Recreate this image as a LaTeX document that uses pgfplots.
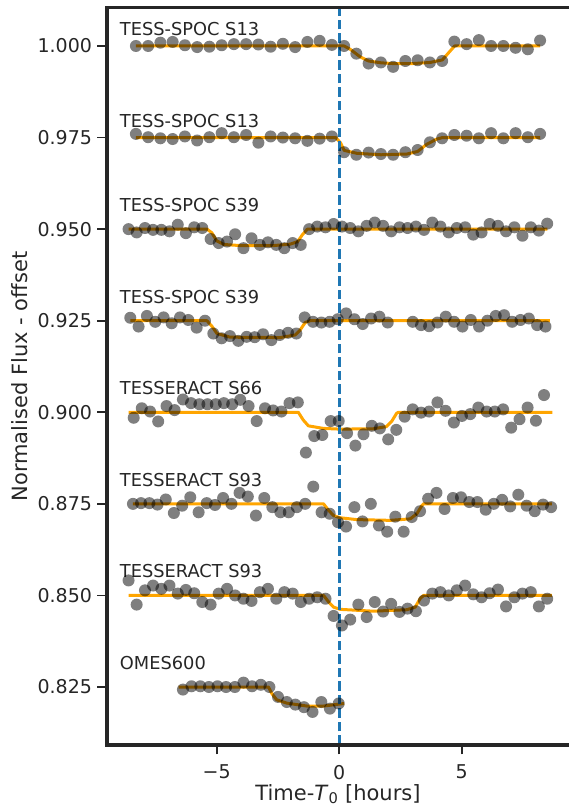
\documentclass[border=0pt]{standalone}
\usepackage{fontspec}
\setmainfont{DejaVu Sans}
\usepackage{pgfplots}
\pgfplotsset{compat=1.18}
\definecolor{axcol}{HTML}{262626}
\definecolor{modelorange}{HTML}{FFA500}
\definecolor{tzero}{HTML}{1F77B4}

\pgfplotsset{
  lcpts/.style={only marks, mark=*, mark size=6bp,
    mark options={fill=black, draw opacity=0, fill opacity=0.5, line width=0pt}},
  lcmodel/.style={no marks, draw=modelorange, line width=3bp, line join=round},
}
\newcommand{\lcfont}{\fontsize{17.8bp}{20bp}\selectfont}

\begin{document}
\begin{tikzpicture}
\begin{axis}[
  at={(107bp,61bp)}, anchor=south west,
  scale only axis, width=462bp, height=737bp,
  xmin=-9.48, xmax=9.38, ymin=0.80917, ymax=1.01037,
  clip=false,
  axis line style={draw=none},
  xtick pos=left, ytick pos=left,
  tick align=outside,
  major tick length=9.5bp,
  major tick style={draw=axcol, line width=1.8bp},
  xtick={-5,0,5}, xticklabels={−5,0,5},
  ytick={0.825,0.85,0.875,0.9,0.925,0.95,0.975,1.0},
  yticklabels={0.825,0.850,0.875,0.900,0.925,0.950,0.975,1.000},
  tick label style={font=\fontsize{19bp}{22bp}\selectfont, text=axcol},
  xticklabel style={yshift=-7bp},
  yticklabel style={xshift=-2bp},
  xlabel={Time-\textit{T}\textsubscript{0} [hours]},
  ylabel={Normalised Flux - offset},
  label style={font=\fontsize{21bp}{24bp}\selectfont, text=axcol},
  xlabel style={at={(axis description cs:0.5,-0.0747)}, anchor=base, inner sep=0pt},
  ylabel style={at={(axis description cs:-0.171,0.5)}, anchor=south, inner sep=0pt},
]

% TESS-SPOC S13 (first transit)
\addplot[lcpts] table {
x y
-8.3 1.0000
-7.8 1.0000
-7.3 1.0009
-6.8 1.0011
-6.3 1.0002
-5.8 0.9997
-5.3 0.9998
-4.8 1.0002
-4.3 1.0005
-3.8 1.0005
-3.3 1.0004
-2.8 0.9998
-2.3 1.0006
-1.8 0.9997
-1.3 1.0011
-0.8 1.0014
-0.3 1.0003
0.2 1.0000
0.7 0.9979
1.2 0.9952
1.7 0.9955
2.2 0.9943
2.7 0.9959
3.2 0.9961
3.7 0.9955
4.2 0.9959
4.7 1.0012
5.2 1.0005
5.7 1.0016
6.2 1.0000
6.7 1.0000
7.2 0.9995
7.7 0.9991
8.2 1.0015
};
\addplot[lcmodel] coordinates {
(-8.3,1.0) (0.2,1.0) (0.45,0.9991) (0.86,0.9970) (1.2,0.9959) (1.71,0.9954)
(2.2,0.9952) (3.0,0.9952) (3.71,0.9955) (4.21,0.9962) (4.71,1.0) (8.2,1.0)};

% TESS-SPOC S13 (second transit)
\addplot[lcpts] table {
x y
-8.3 0.9760
-7.8 0.9751
-7.3 0.9748
-6.8 0.9746
-6.3 0.9753
-5.8 0.9742
-5.3 0.9751
-4.8 0.9762
-4.3 0.9751
-3.8 0.9757
-3.3 0.9736
-2.8 0.9753
-2.3 0.9750
-1.8 0.9748
-1.3 0.9741
-0.8 0.9747
-0.3 0.9753
0.2 0.9710
0.7 0.9703
1.2 0.9709
1.7 0.9705
2.2 0.9703
2.7 0.9710
3.2 0.9716
3.7 0.9737
4.2 0.9748
4.7 0.9757
5.2 0.9755
5.7 0.9748
6.2 0.9762
6.7 0.9748
7.2 0.9762
7.7 0.9751
8.2 0.9760
};
\addplot[lcmodel] coordinates {
(-8.3,0.975) (-0.14,0.975) (0.06,0.9735) (0.2,0.9715) (0.72,0.9707) (1.7,0.9703)
(2.76,0.9705) (3.2,0.9712) (3.58,0.9732) (3.99,0.9746) (4.21,0.975) (8.2,0.975)};

% TESS-SPOC S39 (first transit)
\addplot[lcpts] table {
x y
-8.60 0.9500
-8.27 0.9491
-7.93 0.9503
-7.60 0.9498
-7.26 0.9498
-6.93 0.9494
-6.59 0.9512
-6.26 0.9489
-5.92 0.9505
-5.59 0.9503
-5.25 0.9473
-4.92 0.9462
-4.58 0.9466
-4.25 0.9486
-3.91 0.9448
-3.58 0.9475
-3.24 0.9457
-2.91 0.9464
-2.57 0.9457
-2.24 0.9448
-1.90 0.9462
-1.57 0.9457
-1.23 0.9500
-0.90 0.9507
-0.56 0.9505
-0.23 0.9514
0.11 0.9507
0.45 0.9503
0.78 0.9494
1.12 0.9509
1.45 0.9518
1.79 0.9509
2.12 0.9494
2.46 0.9505
2.79 0.9503
3.13 0.9507
3.46 0.9498
3.80 0.9518
4.13 0.9507
4.47 0.9491
4.80 0.9503
5.14 0.9505
5.47 0.9485
5.81 0.9491
6.14 0.9514
6.48 0.9509
6.81 0.9494
7.15 0.9505
7.48 0.9482
7.82 0.9505
8.15 0.9496
8.49 0.9515
};
\addplot[lcmodel] coordinates {
(-8.6,0.95) (-5.4,0.95) (-5.2,0.9490) (-5.0,0.9468) (-4.7,0.9458) (-4.0,0.9455)
(-2.7,0.9455) (-2.0,0.9459) (-1.7,0.9466) (-1.5,0.9485) (-1.3,0.95) (8.5,0.95)};

% TESS-SPOC S39 (second transit)
\addplot[lcpts] table {
x y
-8.53 0.9258
-8.19 0.9234
-7.85 0.9263
-7.51 0.9247
-7.17 0.9259
-6.84 0.9243
-6.50 0.9259
-6.16 0.9252
-5.82 0.9231
-5.48 0.9250
-5.14 0.9215
-4.80 0.9202
-4.46 0.9208
-4.12 0.9195
-3.78 0.9206
-3.45 0.9205
-3.11 0.9213
-2.77 0.9197
-2.43 0.9211
-2.09 0.9217
-1.75 0.9215
-1.41 0.9259
-1.07 0.9247
-0.73 0.9245
-0.39 0.9247
-0.06 0.9254
0.28 0.9270
0.62 0.9254
0.96 0.9241
1.30 0.9256
1.64 0.9261
1.98 0.9245
3.00 0.9247
3.34 0.9238
3.67 0.9235
4.01 0.9245
4.35 0.9261
4.69 0.9247
5.03 0.9234
5.37 0.9252
5.71 0.9234
6.05 0.9250
6.39 0.9263
6.73 0.9265
7.06 0.9247
7.40 0.9252
7.74 0.9256
8.08 0.9238
8.42 0.9234
};
\addplot[lcmodel] coordinates {
(-8.53,0.925) (-5.4,0.925) (-5.2,0.9235) (-4.99,0.9215) (-4.45,0.9205) (-2.41,0.9204)
(-1.8,0.9211) (-1.59,0.9225) (-1.39,0.9245) (-1.18,0.925) (8.6,0.925)};

% TESSERACT S66
\addplot[lcpts] table {
x y
-8.39 0.8985
-8.06 0.9011
-7.72 0.9002
-7.39 0.8975
-7.05 0.9017
-6.72 0.9006
-6.38 0.9035
-6.05 0.9025
-5.71 0.9022
-5.38 0.9022
-5.04 0.9022
-4.71 0.9025
-4.37 0.9022
-4.04 0.9034
-3.70 0.9017
-3.37 0.8976
-3.03 0.9011
-2.70 0.9005
-2.36 0.9002
-2.03 0.9025
-1.69 0.9027
-1.36 0.8890
-1.02 0.8935
-0.69 0.8938
-0.35 0.8976
-0.02 0.8976
0.32 0.8943
0.66 0.8909
0.99 0.8940
1.33 0.8963
1.66 0.8956
2.00 0.8926
2.33 0.8952
2.67 0.8988
3.00 0.9008
3.34 0.8999
3.67 0.9002
4.01 0.9027
4.34 0.9004
4.68 0.8972
5.01 0.8990
5.35 0.8995
5.68 0.9013
6.02 0.9002
6.35 0.9002
6.69 0.9008
7.02 0.8958
7.36 0.8981
7.69 0.9013
8.03 0.8977
8.36 0.9047
};
\addplot[lcmodel] coordinates {
(-8.6,0.9) (-1.67,0.9) (-1.47,0.8979) (-1.26,0.8963) (-0.65,0.8956) (0.03,0.8954)
(1.39,0.8955) (1.93,0.8961) (2.14,0.8975) (2.34,0.8997) (2.41,0.9) (8.7,0.9)};

% TESSERACT S93 (first transit)
\addplot[lcpts] table {
x y
-8.42 0.8750
-8.09 0.8752
-7.75 0.8752
-7.42 0.8748
-7.08 0.8762
-6.75 0.8725
-6.41 0.8745
-6.08 0.8768
-5.74 0.8727
-5.41 0.8752
-5.07 0.8747
-4.74 0.8766
-4.40 0.8750
-4.07 0.8780
-3.73 0.8770
-3.40 0.8718
-3.06 0.8766
-2.73 0.8741
-2.40 0.8727
-2.06 0.8727
-1.73 0.8741
-1.39 0.8750
-1.06 0.8797
-0.72 0.8727
-0.39 0.8723
-0.05 0.8700
0.28 0.8688
0.62 0.8741
0.95 0.8702
1.29 0.8750
1.62 0.8691
1.96 0.8674
2.29 0.8715
2.63 0.8674
2.96 0.8714
3.30 0.8730
3.63 0.8764
3.97 0.8780
4.30 0.8736
4.64 0.8766
4.97 0.8768
5.31 0.8755
5.64 0.8755
5.98 0.8734
6.31 0.8750
6.65 0.8761
6.98 0.8743
7.31 0.8775
7.65 0.8745
7.98 0.8730
8.32 0.8748
8.65 0.8741
};
\addplot[lcmodel] coordinates {
(-8.42,0.875) (-0.64,0.875) (-0.43,0.8732) (-0.23,0.8718) (0.04,0.8712) (0.72,0.8707)
(2.08,0.8705) (2.9,0.8709) (3.17,0.8723) (3.37,0.8745) (3.44,0.875) (8.68,0.875)};

% TESSERACT S93 (second transit)
\addplot[lcpts] table {
x y
-8.60 0.8541
-8.27 0.8475
-7.93 0.8514
-7.60 0.8527
-7.26 0.8518
-6.93 0.8527
-6.59 0.8505
-6.26 0.8515
-5.92 0.8506
-5.59 0.8482
-5.25 0.8475
-4.92 0.8505
-4.58 0.8518
-4.25 0.8500
-3.91 0.8491
-3.58 0.8485
-3.24 0.8509
-2.91 0.8518
-2.57 0.8491
-2.24 0.8509
-1.90 0.8505
-1.57 0.8482
-1.23 0.8491
-0.90 0.8495
-0.56 0.8491
-0.23 0.8444
0.11 0.8418
0.45 0.8434
0.78 0.8475
1.12 0.8441
1.45 0.8482
1.79 0.8456
2.12 0.8477
2.46 0.8455
2.79 0.8464
3.13 0.8457
3.46 0.8486
3.80 0.8505
4.13 0.8509
4.47 0.8500
4.80 0.8514
5.14 0.8527
5.47 0.8503
5.81 0.8495
6.14 0.8506
6.48 0.8516
6.81 0.8470
7.15 0.8495
7.48 0.8505
7.82 0.8509
8.15 0.8470
8.49 0.8491
};
\addplot[lcmodel] coordinates {
(-8.6,0.85) (-0.64,0.85) (-0.43,0.8482) (-0.23,0.8468) (0.04,0.8462) (1.39,0.8457)
(2.76,0.8461) (3.1,0.8468) (3.3,0.8491) (3.44,0.85) (8.68,0.85)};

% OMES600
\addplot[lcpts] table {
x y
-6.38 0.8243
-6.03 0.8252
-5.67 0.8252
-5.32 0.8250
-4.97 0.8252
-4.62 0.8250
-4.26 0.8250
-3.91 0.8262
-3.56 0.8252
-3.20 0.8256
-2.85 0.8250
-2.50 0.8223
-2.14 0.8209
-1.79 0.8202
-1.44 0.8195
-1.09 0.8182
-0.73 0.8209
-0.38 0.8191
-0.02 0.8205
};
\addplot[lcmodel] coordinates {
(-6.56,0.825) (-2.89,0.825) (-2.75,0.8232) (-2.55,0.8215) (-2.14,0.8206)
(-1.32,0.8198) (-0.64,0.8198) (0.2,0.8205)};

% mid-transit reference time
\addplot[draw=tzero, line width=2.8bp, dash pattern=on 9.5bp off 4bp]
  coordinates {(0,0.80917) (0,1.01037)};

% light-curve names
\begin{scope}[every node/.style={anchor=base west, inner sep=0pt, font=\lcfont, text=axcol}]
\node at (axis cs:-8.96,1.0028) {TESS-SPOC S13};
\node at (axis cs:-8.96,0.9778) {TESS-SPOC S13};
\node at (axis cs:-8.96,0.9548) {TESS-SPOC S39};
\node at (axis cs:-8.96,0.9298) {TESS-SPOC S39};
\node at (axis cs:-8.96,0.9048) {TESSERACT S66};
\node at (axis cs:-8.96,0.8798) {TESSERACT S93};
\node at (axis cs:-8.96,0.8548) {TESSERACT S93};
\node at (axis cs:-8.96,0.8298) {OMES600};
\end{scope}

% spines: left, top and bottom
\draw[axcol, line width=3bp, line join=miter]
  (rel axis cs:1,1) -- (rel axis cs:0,1) -- (rel axis cs:0,0) -- (rel axis cs:1,0);
\end{axis}
\pgfresetboundingbox
\useasboundingbox (0,0) rectangle (569bp,806bp);
\end{tikzpicture}
\end{document}
